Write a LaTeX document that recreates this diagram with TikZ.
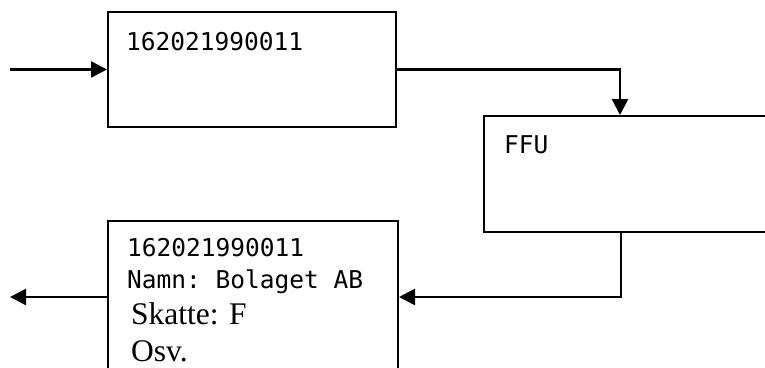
\documentclass[tikz,border=0pt]{standalone}
\usepackage{fontspec}
\setmainfont{Liberation Serif}
\setmonofont{DejaVu Sans Mono}
\usetikzlibrary{arrows.meta,calc}
\tikzset{
  boxnode/.style={draw=black, line width=2pt, rectangle, inner sep=0pt},
  conn/.style={draw=black, line width=2.6pt, -{Triangle[length=16pt,width=16pt]}},
  monotext/.style={anchor=base west, inner sep=0pt, font=\ttfamily\fontsize{24.5}{28}\selectfont},
  serftext/.style={anchor=base west, inner sep=0pt, font=\rmfamily\fontsize{31.5}{36}\selectfont}
}
\begin{document}
\begin{tikzpicture}[x=1pt,y=-1pt]
\useasboundingbox (0,0) rectangle (765,367);
\clip (0,0) rectangle (765,367);
\fill[white] (0,0) rectangle (765,367);
% boxes
\node[boxnode, minimum width=288pt, minimum height=115pt] (b1) at (252,69.5) {};
\node[boxnode, minimum width=316pt, minimum height=116pt] (b2) at (642,174) {};
\node[boxnode, minimum width=290pt, minimum height=152pt] (b3) at (253,297) {};
% texts
\node[monotext] (t1) at (126,50) {162021990011};
\node[monotext] (t2) at (504,153) {FFU};
\node[monotext] (t3a) at (127,256.5) {162021990011};
\node[monotext] (t3b) at (127,288.5) {Namn: Bolaget AB};
\node[serftext] (t3c) at (131,324) {Skatte: F};
\node[serftext] (t3d) at (131,361) {Osv.};
% connectors
\coordinate (in) at (10,69.5);
\coordinate (out) at (10,297);
\draw[conn] (in) -- (b1.west);
\draw[conn] (b1.east) -| ($(b2.north west)+(137,0)$);
\draw[conn] ($(b2.south west)+(138,0)$) |- (b3.east);
\draw[conn] (b3.west) -- (out);
\end{tikzpicture}
\end{document}
